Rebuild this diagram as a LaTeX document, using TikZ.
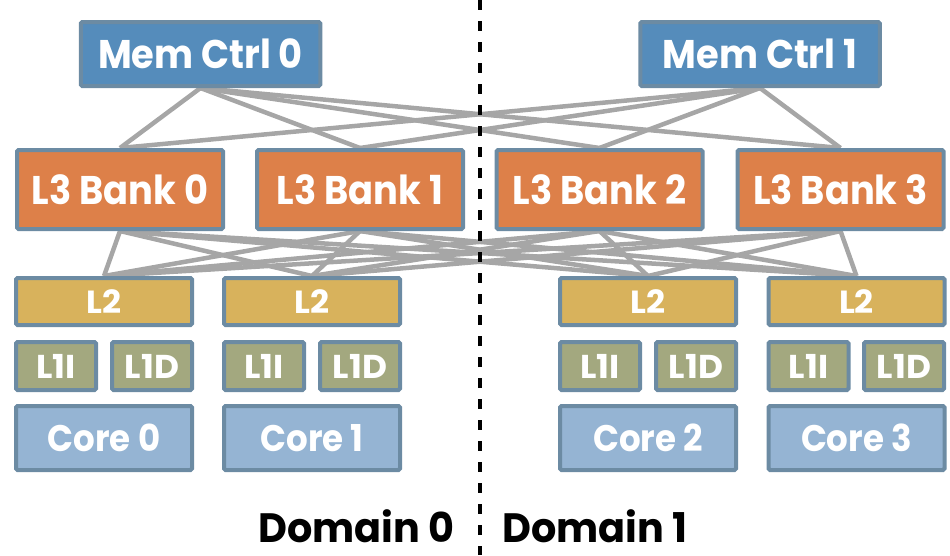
\documentclass[tikz,border=0pt]{standalone}
\usepackage{fontspec}
\setmainfont{Poppins}[FakeStretch=0.92]
\newfontfamily\domfont{Poppins}[FakeStretch=0.97]
\newfontfamily\widefont{Poppins}[FakeStretch=1.04]
\usetikzlibrary{backgrounds}
\definecolor{mcblue}{HTML}{558CBB}
\definecolor{lthree}{HTML}{DD8049}
\definecolor{ltwo}{HTML}{D8B25C}
\definecolor{lone}{HTML}{A3A87F}
\definecolor{corec}{HTML}{95B4D3}
\definecolor{edgec}{HTML}{6C8BA3}
\definecolor{wire}{HTML}{A6A6A6}
\tikzset{
  box/.style={draw=edgec, line width=4pt, rounded corners=1.5pt, inner sep=0pt, text=white, font=\bfseries},
  mcbox/.style={box, fill=mcblue, minimum width=239.5pt, minimum height=64pt, font=\bfseries\fontsize{40}{40}\selectfont},
  lthreebox/.style={box, fill=lthree, minimum width=206pt, minimum height=79pt, font=\bfseries\fontsize{40}{40}\selectfont},
  ltwobox/.style={box, fill=ltwo, minimum width=176pt, minimum height=47pt, font=\widefont\bfseries\fontsize{32}{32}\selectfont},
  lonebox/.style={box, fill=lone, minimum width=80pt, minimum height=48pt, font=\widefont\bfseries\fontsize{33}{33}\selectfont},
  corebox/.style={box, fill=corec, minimum width=176pt, minimum height=64pt, font=\bfseries\fontsize{37}{37}\selectfont},
  wireline/.style={draw=wire, line width=4.5pt},
  domlabel/.style={inner sep=0pt, text=black, font=\domfont\bfseries\fontsize{41}{41}\selectfont}
}
\begin{document}
\begin{tikzpicture}[x=1pt,y=-1pt]
\useasboundingbox (0,0) rectangle (950,555);
% memory controllers
\node[mcbox] (mc0) at (200.5,54) {Mem Ctrl 0};
\node[mcbox] (mc1) at (760,54) {Mem Ctrl 1};
% L3 banks
\node[lthreebox] (b0) at (120,189.5) {L3 Bank 0};
\node[lthreebox] (b1) at (360,189.5) {L3 Bank 1};
\node[lthreebox] (b2) at (599.5,189.5) {L3 Bank 2};
\node[lthreebox] (b3) at (840.5,189.5) {L3 Bank 3};
% L2
\node[ltwobox] (l20) at (104,301.5) {L2};
\node[ltwobox] (l21) at (312,301.5) {L2};
\node[ltwobox] (l22) at (648,301.5) {L2};
\node[ltwobox] (l23) at (856.5,301.5) {L2};
% L1
\node[lonebox] (i0) at (56,366) {L1I};
\node[lonebox] (d0) at (152,366) {L1D};
\node[lonebox] (i1) at (264,366) {L1I};
\node[lonebox] (d1) at (360,366) {L1D};
\node[lonebox] (i2) at (600,366) {L1I};
\node[lonebox] (d2) at (696,366) {L1D};
\node[lonebox] (i3) at (808.5,366) {L1I};
\node[lonebox] (d3) at (904,366) {L1D};
% cores
\node[corebox] (c0) at (104,438) {Core 0};
\node[corebox] (c1) at (312,438) {Core 1};
\node[corebox] (c2) at (648,438) {Core 2};
\node[corebox] (c3) at (856.5,438) {Core 3};
% wires
\begin{scope}[on background layer]
\foreach \m in {mc0,mc1}
  \foreach \b in {b0,b1,b2,b3}
    \draw[wireline] (\m.south) -- (\b.north);
\foreach \b in {b0,b1,b2,b3}
  \foreach \l in {l20,l21,l22,l23}
    \draw[wireline] (\b.south) -- (\l.north);
\end{scope}
% domain divider
\coordinate (dtop) at (480,0);
\coordinate (dbot) at (480,555);
\draw[black, line width=3.5pt, dash pattern=on 10pt off 11pt] (dtop) -- (dbot);
\node[domlabel, anchor=base east] (dom0) at (455,542) {Domain 0};
\node[domlabel, anchor=base west] (dom1) at (502,542) {Domain 1};
\end{tikzpicture}
\end{document}
